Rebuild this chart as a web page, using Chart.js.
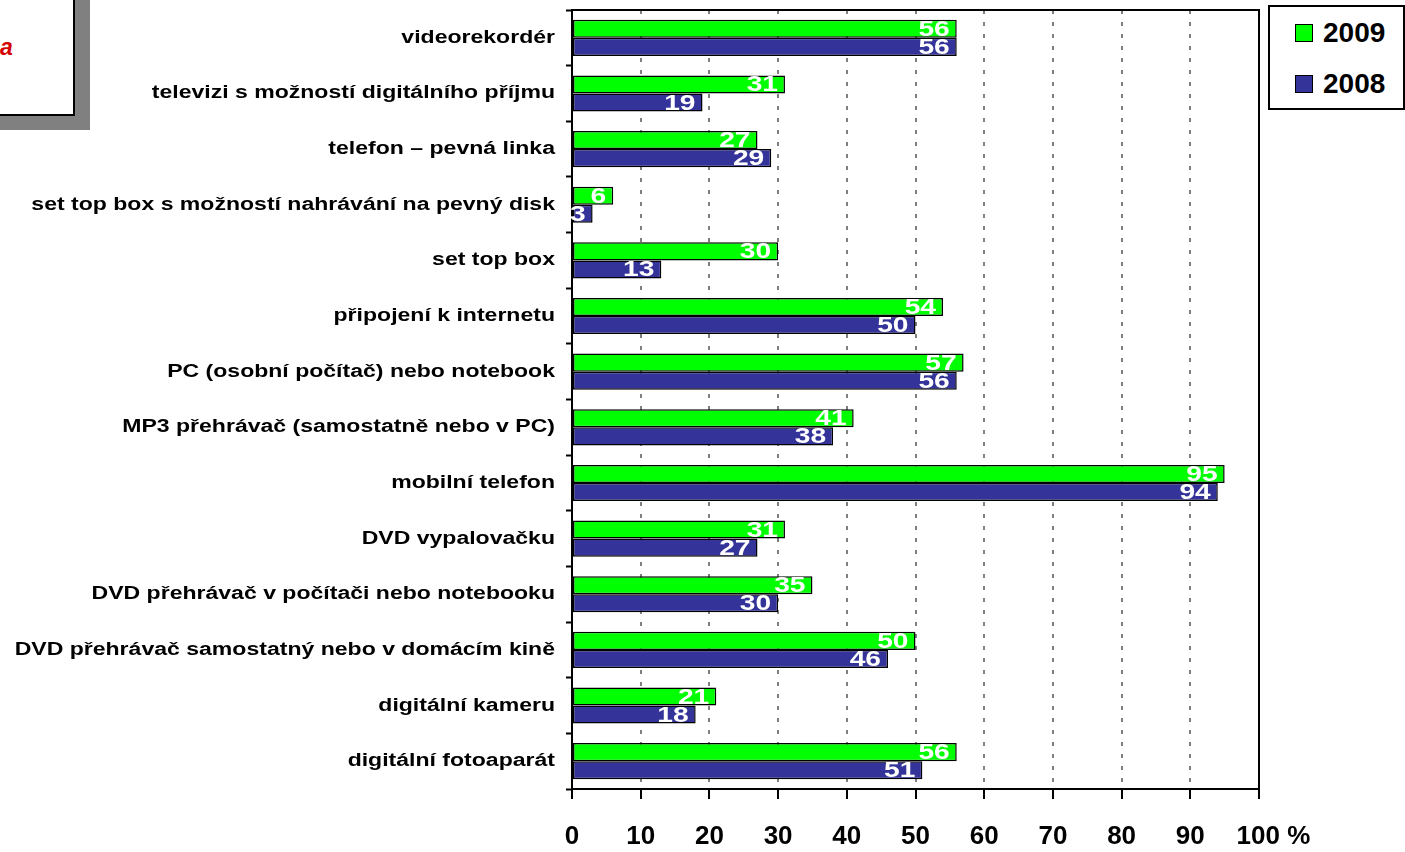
<!DOCTYPE html>
<html>
<head>
<meta charset="utf-8">
<script src="https://cdn.jsdelivr.net/npm/chart.js@4/dist/chart.umd.min.js"></script>
<style>
    html, body { margin: 0; padding: 0; background: #fff; overflow: hidden; }
    #wrap { position: relative; width: 1405px; height: 852px; }
    #chart { position: absolute; left: 0; top: 0; }
    .shadow { position: absolute; left: 0; top: 0; width: 90px; height: 130px; background: #808080; }
    .titlebox {
        position: absolute; left: -10px; top: -10px; width: 81px; height: 122px;
        background: #fff; border: 2px solid #000;
    }
    .titlebox span {
        position: absolute; left: 8px; top: 42px;
        font: italic bold 23px "Liberation Sans", Arial, sans-serif; color: #d40000;
    }
    #legend {
        position: absolute; left: 1268px; top: 5px; width: 133px; height: 101px;
        border: 2px solid #000; background: #fff;
        font: bold 28px "Liberation Sans", Arial, sans-serif;
    }
    .legend-item { position: absolute; left: 25px; height: 30px; line-height: 30px; }
    .legend-color {
        display: inline-block; width: 16px; height: 16px; border: 1.5px solid #000;
        vertical-align: middle; margin-right: 10px; position: relative; top: -2px;
    }
</style>
</head>
<body>
<div id="wrap">
    <canvas id="chart" width="1405" height="852"></canvas>
    <div class="shadow"></div>
    <div class="titlebox"><span>a</span></div>
    <div id="legend"></div>
</div>
<script>
// categories, top to bottom
const categories = [
    'videorekordér',
    'televizi s možností digitálního příjmu',
    'telefon – pevná linka',
    'set top box s možností nahrávání na pevný disk',
    'set top box',
    'připojení k internetu',
    'PC (osobní počítač) nebo notebook',
    'MP3 přehrávač (samostatně nebo v PC)',
    'mobilní telefon',
    'DVD vypalovačku',
    'DVD přehrávač v počítači nebo notebooku',
    'DVD přehrávač samostatný nebo v domácím kině',
    'digitální kameru',
    'digitální fotoaparát'
];

const values2009 = [56, 31, 27, 6, 30, 54, 57, 41, 95, 31, 35, 50, 21, 56];
const values2008 = [56, 19, 29, 3, 13, 50, 56, 38, 94, 27, 30, 46, 18, 51];

const xTicks = [0, 10, 20, 30, 40, 50, 60, 70, 80, 90, 100];

const FONT = '"Liberation Sans", Arial, sans-serif';
// the original text is drawn horizontally stretched
const STRETCH = 1.28;
const Y_TICK_LEN = 6;
const Y_PAD = 11;

// white value labels at the bar ends
const valueLabels = {
    id: 'valueLabels',
    afterDatasetsDraw(chart) {
        const ctx = chart.ctx;
        ctx.save();
        ctx.font = 'bold 22px ' + FONT;
        ctx.fillStyle = '#fff';
        ctx.textAlign = 'right';
        ctx.textBaseline = 'middle';
        chart.data.datasets.forEach((ds, i) => {
            chart.getDatasetMeta(i).data.forEach((bar, j) => {
                ctx.save();
                ctx.translate(bar.x - 7, bar.y + 1);
                ctx.scale(STRETCH, 1);
                ctx.fillText(String(ds.data[j]), 0, 0);
                ctx.restore();
            });
        });
        ctx.restore();
    }
};

// stretch the category labels round their right-aligned anchor
const stretchedLabels = {
    id: 'stretchedLabels',
    afterLayout(chart) {
        const y = chart.scales.y;
        if (y._stretched) return;
        const orig = y.drawLabels;
        y.drawLabels = function(area) {
            const ctx = this.ctx;
            const ax = this.right - Y_TICK_LEN - Y_PAD;
            ctx.save();
            ctx.translate(ax, 0);
            ctx.scale(STRETCH, 1);
            ctx.translate(-ax, 0);
            orig.call(this, area);
            ctx.restore();
        };
        y._stretched = true;
    }
};

// frame round the plot area
const plotFrame = {
    id: 'plotFrame',
    afterDraw(chart) {
        const a = chart.chartArea;
        const ctx = chart.ctx;
        ctx.save();
        ctx.strokeStyle = '#000';
        ctx.lineWidth = 2;
        ctx.beginPath();
        ctx.moveTo(a.left, a.top);
        ctx.lineTo(a.right, a.top);
        ctx.lineTo(a.right, a.bottom);
        ctx.stroke();
        ctx.restore();
    }
};

const chart = new Chart(document.getElementById('chart').getContext('2d'), {
    type: 'bar',
    data: {
        labels: categories,
        datasets: [
            {
                label: '2009',
                data: values2009,
                backgroundColor: '#00ff00',
                borderColor: '#000',
                borderWidth: 1.5,
                borderSkipped: false
            },
            {
                label: '2008',
                data: values2008,
                backgroundColor: '#333399',
                borderColor: '#000',
                borderWidth: 1.5,
                borderSkipped: false
            }
        ]
    },
    options: {
        indexAxis: 'y',
        responsive: false,
        animation: false,
        layout: { padding: { left: 0, right: 146, top: 10, bottom: 0 } },
        datasets: {
            bar: { categoryPercentage: 0.65, barPercentage: 1.0 }
        },
        plugins: {
            legend: { display: false },
            tooltip: { enabled: false }
        },
        scales: {
            x: {
                min: 0,
                max: 100,
                afterBuildTicks: (scale) => { scale.ticks = xTicks.map(v => ({ value: v })); },
                afterFit: (scale) => { scale.height = 63; },
                grid: {
                    color: '#808080',
                    lineWidth: 2,
                    tickColor: '#000',
                    tickLength: 10,
                    tickWidth: 2
                },
                border: { color: '#000', width: 2, dash: [4, 8] },
                ticks: {
                    padding: 22,
                    color: '#000',
                    autoSkip: false,
                    font: { family: FONT, size: 26, weight: 'bold' },
                    maxRotation: 0,
                    callback: (v) => v === 100 ? '    100 %' : String(v)
                }
            },
            y: {
                afterFit: (scale) => {
                    scale.width = 572;
                    scale.paddingTop = 0;
                    scale.paddingBottom = 0;
                },
                grid: {
                    drawOnChartArea: false,
                    tickColor: '#000',
                    tickLength: Y_TICK_LEN,
                    tickWidth: 2
                },
                border: { color: '#000', width: 2 },
                ticks: {
                    padding: Y_PAD,
                    color: '#000',
                    font: { family: FONT, size: 18, weight: 'bold' },
                    autoSkip: false
                }
            }
        }
    },
    plugins: [valueLabels, stretchedLabels, plotFrame]
});

// legend, 2009 first
const legend = document.getElementById('legend');
chart.data.datasets.forEach((ds, i) => {
    const item = document.createElement('div');
    item.className = 'legend-item';
    item.style.top = (11 + i * 51) + 'px';
    const box = document.createElement('span');
    box.className = 'legend-color';
    box.style.backgroundColor = ds.backgroundColor;
    const text = document.createElement('span');
    text.textContent = ds.label;
    item.appendChild(box);
    item.appendChild(text);
    legend.appendChild(item);
});
</script>
</body>
</html>
